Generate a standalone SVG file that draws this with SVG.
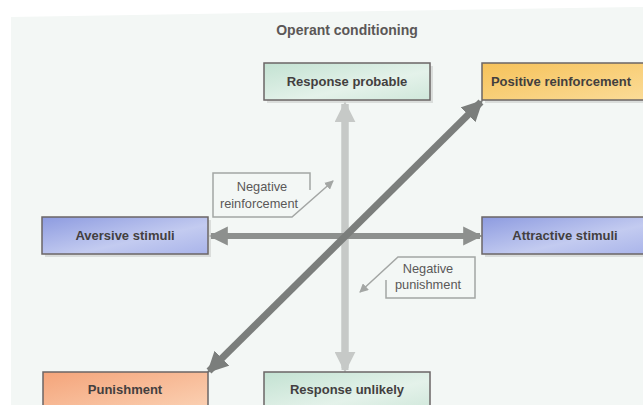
<svg xmlns="http://www.w3.org/2000/svg" width="643" height="405" viewBox="0 0 643 405">
<defs>
<linearGradient id="gGreen" x1="0" y1="0" x2="1" y2="1"><stop offset="0" stop-color="#c3e2d2"/><stop offset="0.6" stop-color="#e4f2ea"/><stop offset="1" stop-color="#cfe7da"/></linearGradient>
<linearGradient id="gOrange" x1="0" y1="0" x2="1" y2="1"><stop offset="0" stop-color="#f6c25a"/><stop offset="1" stop-color="#fbdc98"/></linearGradient>
<linearGradient id="gBlue" x1="0" y1="0" x2="1" y2="1"><stop offset="0" stop-color="#8d9be0"/><stop offset="0.6" stop-color="#c3cbf0"/><stop offset="1" stop-color="#a9b4ea"/></linearGradient>
<linearGradient id="gSalmon" x1="0" y1="0" x2="1" y2="1"><stop offset="0" stop-color="#f4a47a"/><stop offset="1" stop-color="#fbd3b6"/></linearGradient>
<marker id="hLight" markerWidth="3" markerHeight="3" refX="2.6" refY="1.5" orient="auto" markerUnits="strokeWidth"><path d="M0,0 L3,1.5 L0,3 Z" fill="#c6c9c7"/></marker>
<marker id="hMid" markerWidth="3.2" markerHeight="3.2" refX="2.8" refY="1.6" orient="auto-start-reverse" markerUnits="strokeWidth"><path d="M0,0 L3.2,1.6 L0,3.2 Z" fill="#8d908e"/></marker>
<marker id="hDark" markerWidth="3" markerHeight="3" refX="2.6" refY="1.5" orient="auto-start-reverse" markerUnits="strokeWidth"><path d="M0,0 L3,1.5 L0,3 Z" fill="#7b7e7c"/></marker>
<marker id="hThin" markerWidth="9" markerHeight="9" refX="8" refY="4.5" orient="auto" markerUnits="userSpaceOnUse"><path d="M0,0 L9,4.5 L0,9 Z" fill="#a3a6a4"/></marker>
</defs>
<style>
.box{stroke:#6b6666;stroke-width:1.5}
.shadow{fill:#c9cbca;opacity:0.6}
.lbl{font-family:"Liberation Sans",Arial,sans-serif;font-weight:bold;font-size:13px;fill:#433f3f;text-anchor:middle}
.call{font-family:"Liberation Sans",Arial,sans-serif;font-size:12.8px;fill:#5a5858;text-anchor:middle}
.callout{fill:none;stroke:#a3a6a4;stroke-width:1.5}
</style>
<rect width="643" height="405" fill="#ffffff"/>
<polygon points="11,17 636,7 643,7 643,405 11,405" fill="#f3f7f5"/>
<text x="347" y="35" font-family="'Liberation Sans',Arial,sans-serif" font-weight="bold" font-size="14px" fill="#5b5757" text-anchor="middle">Operant conditioning</text>
<g id="connectors">
<line x1="345" y1="368" x2="345" y2="104" stroke="#c6c9c7" stroke-width="7" marker-end="url(#hLight)"/>
<line x1="345" y1="104" x2="345" y2="370" stroke="#c6c9c7" stroke-width="7" marker-end="url(#hLight)"/>
<line x1="211" y1="236" x2="480" y2="236" stroke="#8d908e" stroke-width="6" marker-start="url(#hMid)" marker-end="url(#hMid)"/>
<line x1="209" y1="371" x2="481" y2="102" stroke="#7b7e7c" stroke-width="7" marker-start="url(#hDark)" marker-end="url(#hDark)"/>
</g>
<g id="neg-reinforcement">
<polyline class="callout" points="310,190 310,173 213,173 213,217 292,217 333,181" marker-end="url(#hThin)"/>
<text class="call" x="262" y="191">Negative</text>
<text class="call" x="259" y="208">reinforcement</text>
</g>
<g id="neg-punishment">
<polyline class="callout" points="386,280 386,298 475,298 475,257 398,257 360,292" marker-end="url(#hThin)"/>
<text class="call" x="428" y="273">Negative</text>
<text class="call" x="428" y="289">punishment</text>
</g>
<g id="response-probable">
<rect class="shadow" x="267" y="66" width="166" height="37"/>
<rect class="box" x="264" y="63" width="166" height="37" fill="url(#gGreen)"/>
<text class="lbl" x="347" y="86">Response probable</text>
</g>
<g id="positive-reinforcement">
<rect class="shadow" x="485" y="66" width="160" height="37"/>
<rect class="box" x="482" y="63" width="165" height="37" fill="url(#gOrange)"/>
<text class="lbl" x="561" y="86">Positive reinforcement</text>
</g>
<g id="aversive-stimuli">
<rect class="shadow" x="45" y="220" width="166" height="37"/>
<rect class="box" x="42" y="217" width="166" height="37" fill="url(#gBlue)"/>
<text class="lbl" x="125" y="240">Aversive stimuli</text>
</g>
<g id="attractive-stimuli">
<rect class="shadow" x="485" y="220" width="160" height="37"/>
<rect class="box" x="482" y="217" width="165" height="37" fill="url(#gBlue)"/>
<text class="lbl" x="565" y="240">Attractive stimuli</text>
</g>
<g id="punishment">
<rect class="box" x="43" y="372" width="165" height="40" fill="url(#gSalmon)"/>
<text class="lbl" x="125" y="394">Punishment</text>
</g>
<g id="response-unlikely">
<rect class="box" x="264" y="372" width="166" height="40" fill="url(#gGreen)"/>
<text class="lbl" x="347" y="394">Response unlikely</text>
</g>
</svg>
